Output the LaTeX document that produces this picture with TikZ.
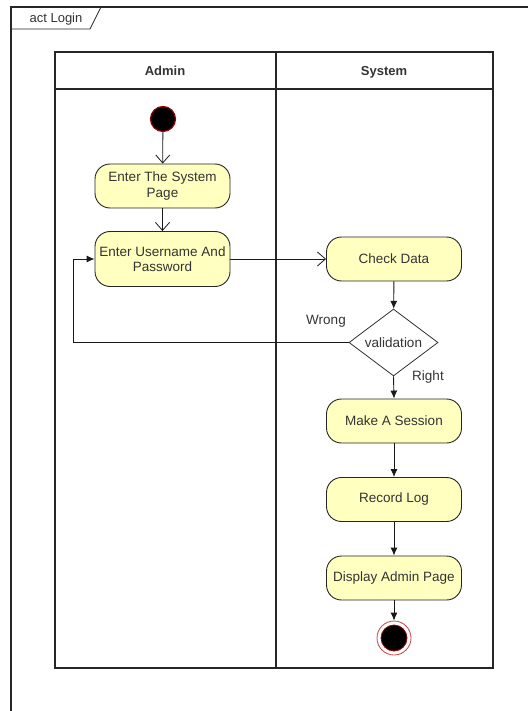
\documentclass[tikz,border=0pt]{standalone}
\usepackage{fontspec}
\setmainfont{Liberation Sans}
\usetikzlibrary{shapes.geometric,arrows.meta}
\definecolor{actfill}{HTML}{FFFFC0}
\definecolor{startred}{HTML}{990000}
\definecolor{ringred}{HTML}{D04040}
\definecolor{txt}{HTML}{333333}
\begin{document}
\begin{tikzpicture}[x=1pt,y=-1pt,
  act/.style={draw=black!85, fill=actfill, rounded corners=15pt, minimum width=135pt,
    minimum height=44pt, align=center, inner sep=0pt, text=txt,
    font=\fontsize{13.5}{15.5}\selectfont, line width=0.9pt},
  dec/.style={draw=black!80, fill=white, diamond, minimum width=89pt, minimum height=65pt,
    inner sep=0pt, text=txt, font=\fontsize{13.5}{15.5}\selectfont, line width=0.8pt},
  flow/.style={-{Latex[length=8pt,width=7pt]}, line width=0.9pt, draw=black!90},
  openflow/.style={-{Straight Barb[length=8pt,width=14pt]}, line width=0.8pt, draw=black!90},
  lane/.style={line width=1.2pt, draw=black!85},
  lbl/.style={text=txt, font=\fontsize{13.5}{15.5}\selectfont},
  hdr/.style={text=txt, font=\fontsize{13}{15}\selectfont\bfseries, anchor=base}
]
\useasboundingbox (0,0) rectangle (528,711);
% outer frame
\draw[lane] (11,711) -- (11,7) -- (528,7);
\draw[lane, line width=0.8pt] (11,29) -- (90,29) -- (101,7);
\node[lbl, font=\fontsize{13}{15}\selectfont, anchor=base] (title) at (56,23) {act Login};
% swimlanes
\draw[lane] (55,52) rectangle (493,668);
\draw[lane] (55,89) -- (493,89);
\draw[lane] (276,52) -- (276,668);
\node[hdr] (hadmin) at (165,76) {Admin};
\node[hdr] (hsystem) at (384,76) {System};
% nodes
\node[circle, fill=black, draw=startred, line width=1.2pt, minimum size=25pt, inner sep=0pt] (start) at (163,119) {};
\node[act] (sys) at (162.5,186) {Enter The System\\Page};
\node[act, minimum height=55pt] (user) at (162.5,259) {Enter Username And\\Password};
\node[act] (check) at (394,259) {Check Data};
\node[dec] (val) at (393.5,342.5) {validation};
\node[act] (session) at (394,421) {Make A Session};
\node[act] (record) at (394,499.5) {Record Log};
\node[act] (display) at (394,578) {Display Admin Page};
\node[circle, draw=ringred, line width=0.8pt, fill=white, minimum size=34pt, inner sep=0pt] (end) at (394,638) {};
\node[circle, fill=black, draw=startred, line width=0.8pt, minimum size=26pt, inner sep=0pt] (endin) at (394,638) {};
% labels
\node[lbl] (wrong) at (326,321) {Wrong};
\node[lbl] (right) at (428,377) {Right};
% connectors
\draw[openflow] (start) -- (sys);
\draw[openflow] (sys) -- (user);
\draw[openflow] (user.east) -- (check.west);
\draw[flow] (check) -- (val);
\coordinate (back) at (73,342.5);
\draw[flow] (val.west) -- (back) |- (user.west);
\draw[flow] (val.south) -- (session.north);
\draw[flow] (session) -- (record);
\draw[flow] (record) -- (display);
\draw[flow] (display.south) -- (end.north);
\end{tikzpicture}
\end{document}
